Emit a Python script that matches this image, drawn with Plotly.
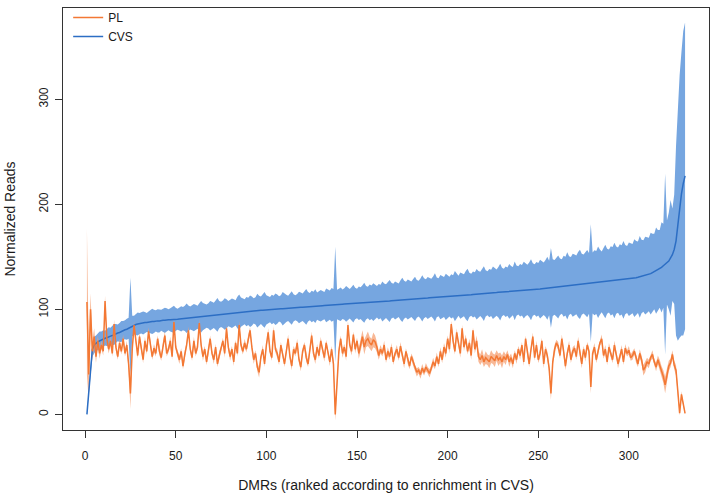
import plotly.graph_objects as go

# ---- data ----
cvs_mean = [
    0, 20, 45, 62, 66, 68, 69, 70, 71, 72,
    72.5, 73, 74, 74.5, 75, 76, 77, 77.5, 78, 79,
    80, 80.5, 81, 82, 83, 84, 85, 85.5, 86, 86.5,
    87, 87, 87.5, 87.5, 88, 88, 88.5, 88.5, 89, 89,
    89, 89.5, 89.5, 89.5, 90, 90, 90, 90, 90.5, 90.5,
    90.6, 90.8, 91, 91.1, 91.3, 91.5, 91.6, 91.8, 92, 92.1,
    92.3, 92.5, 92.7, 92.9, 93.1, 93.3, 93.5, 93.7, 93.9, 94.1,
    94.3, 94.5, 94.7, 94.9, 95.1, 95.3, 95.5, 95.7, 95.9, 96.1,
    96.3, 96.5, 96.7, 96.9, 97.1, 97.3, 97.5, 97.7, 97.8, 98,
    98.2, 98.3, 98.5, 98.6, 98.8, 98.9, 99.1, 99.2, 99.4, 99.5,
    99.6, 99.7, 99.8, 100, 100.1, 100.2, 100.4, 100.5, 100.6, 100.8,
    100.9, 101, 101.1, 101.3, 101.4, 101.5, 101.6, 101.8, 101.9, 102,
    102.2, 102.3, 102.4, 102.6, 102.7, 102.8, 103, 103.1, 103.2, 103.4,
    103.5, 103.6, 103.8, 103.9, 104, 104.2, 104.3, 104.5, 104.6, 104.7,
    104.8, 104.9, 105, 105.1, 105.2, 105.3, 105.3, 105.4, 105.5, 105.6,
    105.8, 105.9, 106, 106.2, 106.3, 106.4, 106.6, 106.7, 106.8, 107,
    107.1, 107.2, 107.4, 107.5, 107.6, 107.8, 107.9, 108, 108.2, 108.3,
    108.4, 108.6, 108.7, 108.8, 109, 109.1, 109.2, 109.4, 109.5, 109.6,
    109.8, 109.9, 110, 110.2, 110.3, 110.4, 110.6, 110.7, 110.8, 111,
    111.1, 111.2, 111.3, 111.4, 111.5, 111.6, 111.7, 111.8, 111.9, 112,
    112.1, 112.3, 112.4, 112.6, 112.7, 112.9, 113, 113.2, 113.3, 113.5,
    113.6, 113.8, 113.9, 114.1, 114.2, 114.4, 114.5, 114.7, 114.8, 115,
    115.1, 115.3, 115.4, 115.6, 115.7, 115.9, 116, 116.2, 116.3, 116.5,
    116.6, 116.8, 116.9, 117.1, 117.2, 117.4, 117.6, 117.8, 118, 118.1,
    118.2, 118.3, 118.4, 118.5, 118.6, 118.7, 118.8, 118.9, 119, 119.1,
    119.3, 119.5, 119.7, 119.9, 120.1, 120.3, 120.5, 120.7, 120.9, 121.1,
    121.3, 121.5, 121.7, 121.9, 122.1, 122.3, 122.5, 122.7, 122.9, 123.1,
    123.3, 123.5, 123.7, 123.9, 124.1, 124.3, 124.5, 124.7, 124.9, 125.1,
    125.3, 125.5, 125.7, 125.9, 126.1, 126.3, 126.5, 126.7, 126.9, 127.1,
    127.3, 127.5, 127.7, 127.8, 127.9, 128, 128.1, 128.2, 128.4, 128.6,
    128.9, 129.3, 129.7, 130.1, 130.5, 130.9, 131.3, 131.7, 132.1, 132.6,
    133.2, 134, 135, 136, 136.8, 137.5, 138.5, 140, 141.5, 143,
    144.5, 146, 149, 152, 157, 165, 180, 198, 210, 220, 227,
]

cvs_hw = [
    1, 3, 5, 7, 8, 7, 8, 9, 8, 8,
    7, 8, 9, 8, 9, 10, 9, 8, 9, 10,
    9, 9, 10, 10, 47, 10, 9, 10, 11, 10,
    10, 11, 10, 9, 10, 11, 12, 11, 10, 11,
    11, 10, 11, 12, 11, 10, 11, 12, 13, 11,
    10, 11, 12, 11, 12, 14, 12, 11, 12, 13,
    12, 11, 13, 15, 13, 12, 11, 12, 14, 13,
    12, 14, 16, 13, 12, 13, 15, 14, 12, 13,
    14, 13, 12, 15, 17, 14, 13, 12, 14, 13,
    15, 14, 12, 13, 16, 14, 13, 15, 17, 14,
    13, 12, 14, 13, 15, 14, 12, 13, 16, 14,
    13, 12, 14, 16, 13, 12, 13, 15, 14, 13,
    15, 17, 14, 13, 15, 14, 16, 13, 14, 15,
    14, 13, 16, 15, 14, 16, 15, 55, 14, 15,
    16, 14, 15, 17, 15, 14, 16, 18, 15, 14,
    16, 15, 17, 19, 16, 15, 17, 16, 18, 16,
    15, 17, 16, 19, 17, 16, 18, 20, 17, 16,
    18, 17, 16, 19, 21, 18, 17, 19, 18, 17,
    19, 21, 18, 17, 19, 22, 19, 18, 20, 19,
    18, 20, 23, 19, 18, 21, 20, 19, 22, 20,
    19, 21, 20, 24, 21, 19, 22, 21, 20, 23,
    25, 21, 20, 22, 21, 24, 22, 21, 23, 26,
    22, 21, 23, 22, 25, 23, 22, 24, 27, 23,
    22, 24, 23, 26, 24, 23, 28, 24, 23, 25,
    24, 27, 25, 24, 26, 29, 25, 24, 26, 25,
    28, 26, 25, 27, 30, 26, 38, 27, 26, 28,
    30, 27, 26, 29, 28, 32, 28, 27, 30, 29,
    28, 31, 33, 29, 28, 30, 32, 29, 56, 29,
    31, 30, 34, 31, 29, 32, 35, 31, 30, 33,
    32, 36, 32, 31, 34, 33, 37, 33, 32, 35,
    34, 33, 37, 35, 34, 39, 35, 34, 37, 36,
    35, 39, 37, 36, 41, 38, 37, 43, 40, 86,
    40, 46, 55, 44, 52, 90, 110, 125, 135, 145, 146,
]

pl_mean = [
    107, 38, 100, 60, 74, 55, 70, 58, 66, 60,
    108, 72, 62, 70, 58, 86, 64, 55, 68, 60,
    72, 58, 66, 48, 20, 62, 85, 68, 56, 74,
    62, 52, 70, 60, 79, 66, 55, 63, 58, 72,
    60, 54, 67, 75, 58, 62, 70, 55, 88, 64,
    58, 52, 60, 46, 57, 66, 80, 62, 54, 70,
    58, 64, 87, 66, 55, 62, 50, 60, 72, 58,
    52, 64, 48, 56, 62, 70, 58, 82, 64, 55,
    62, 50, 68, 58, 85, 66, 60, 68, 62, 72,
    80, 64, 52, 58, 45, 40, 55, 62, 48, 66,
    78, 60, 54, 80, 62, 58, 50, 66, 56, 48,
    60, 72, 55, 46, 62, 58, 68, 52, 45, 60,
    66, 54, 48, 62, 75, 58, 52, 64, 56, 70,
    60, 54, 68, 58, 50, 62, 48, 0, 30, 60,
    72, 58, 64, 55, 85, 66, 60, 76, 62, 70,
    58, 66, 74, 64, 70, 72, 68, 66, 71, 69,
    64, 56, 62, 58, 66, 52, 60, 55, 64, 50,
    58, 62, 54, 65, 56, 48, 60, 52, 46, 55,
    50, 44, 40, 42, 38, 44, 40, 45, 42, 39,
    44, 50, 46, 55, 48, 60, 52, 64, 58, 72,
    62, 86, 70, 60, 78, 66, 58, 82, 64, 72,
    60, 68, 56, 80, 62, 70, 55, 52, 56, 50,
    54, 52, 50, 55, 53, 51, 56, 52, 54, 50,
    55, 52, 57, 50, 54, 48, 58, 52, 62, 56,
    66, 50, 72, 58, 48, 62, 74, 54, 66, 52,
    58, 70, 48, 62, 56, 44, 20, 50, 62, 68,
    65, 56, 72, 60, 46, 58, 66, 52, 60, 63,
    55, 70, 58, 48, 62, 54, 66, 60, 26, 58,
    64, 52, 60, 68, 72, 56, 62, 50, 64, 58,
    52, 66, 58, 48, 55, 62, 50, 63, 58, 61,
    54, 56, 60, 53, 48, 58, 52, 42, 45, 50,
    48, 54, 57, 50, 45, 52, 47, 40, 36, 28,
    38, 46, 49, 57, 47, 42, 22, 1, 19, 8, 1,
]

pl_hw = [
    70, 25, 15, 10, 8, 6, 5, 5, 4, 4,
    5, 4, 4, 4, 3, 4, 4, 3, 4, 3,
    4, 3, 4, 6, 15, 4, 4, 3, 3, 4,
    3, 3, 4, 3, 4, 3, 3, 4, 3, 3,
    4, 3, 3, 4, 3, 3, 4, 3, 4, 3,
    3, 4, 3, 3, 4, 3, 4, 3, 3, 4,
    3, 3, 4, 3, 4, 3, 3, 4, 3, 3,
    4, 3, 3, 4, 3, 3, 4, 3, 3, 4,
    3, 4, 3, 3, 4, 3, 3, 4, 3, 4,
    3, 3, 4, 3, 4, 5, 3, 4, 3, 3,
    4, 3, 3, 4, 3, 4, 3, 3, 4, 3,
    3, 4, 3, 4, 3, 3, 4, 3, 4, 3,
    3, 4, 3, 3, 4, 3, 4, 3, 3, 4,
    3, 4, 3, 3, 4, 3, 4, 6, 8, 4,
    3, 4, 3, 4, 4, 3, 4, 3, 4, 3,
    5, 6, 6, 7, 6, 7, 6, 6, 7, 6,
    5, 4, 4, 3, 4, 3, 4, 3, 4, 3,
    3, 4, 3, 4, 3, 4, 3, 4, 3, 3,
    4, 3, 4, 3, 4, 4, 3, 4, 3, 4,
    3, 4, 3, 4, 3, 4, 3, 4, 4, 3,
    4, 3, 4, 3, 4, 3, 4, 3, 4, 4,
    3, 4, 4, 3, 4, 5, 5, 5, 6, 5,
    6, 5, 6, 6, 5, 6, 5, 6, 5, 6,
    5, 5, 4, 5, 4, 4, 3, 4, 3, 4,
    3, 4, 3, 4, 3, 3, 4, 3, 4, 3,
    4, 3, 4, 3, 4, 4, 6, 3, 4, 3,
    4, 3, 4, 3, 4, 3, 4, 3, 4, 3,
    3, 4, 3, 4, 3, 4, 3, 4, 6, 3,
    4, 3, 4, 3, 4, 3, 4, 3, 4, 3,
    3, 4, 3, 4, 3, 4, 3, 4, 3, 4,
    3, 4, 3, 4, 3, 4, 4, 5, 5, 4,
    4, 3, 4, 3, 4, 4, 5, 6, 6, 8,
    6, 5, 4, 4, 4, 5, 4, 2, 3, 2, 1,
]

x_title = "DMRs (ranked according to enrichment in CVS)"
y_title = "Normalized Reads"
x_ticks = [0, 50, 100, 150, 200, 250, 300]
y_ticks = [0, 100, 200, 300]

# ---- figure ----
ranks = list(range(1, len(cvs_mean) + 1))
cvs_lo = [m - h for m, h in zip(cvs_mean, cvs_hw)]
cvs_hi = [m + h for m, h in zip(cvs_mean, cvs_hw)]
pl_lo = [m - h for m, h in zip(pl_mean, pl_hw)]
pl_hi = [m + h for m, h in zip(pl_mean, pl_hw)]

BLUE_LINE = "rgb(44,110,196)"
BLUE_FILL = "rgba(118,166,224,1)"
ORANGE_LINE = "rgb(243,120,52)"
ORANGE_FILL = "rgba(246,160,115,0.75)"

fig = go.Figure()
fig.add_trace(go.Scatter(x=ranks, y=cvs_lo, mode="lines", line=dict(width=0, color=BLUE_FILL),
                         showlegend=False, hoverinfo="skip"))
fig.add_trace(go.Scatter(x=ranks, y=cvs_hi, mode="lines", line=dict(width=0, color=BLUE_FILL),
                         fill="tonexty", fillcolor=BLUE_FILL, showlegend=False, hoverinfo="skip"))
fig.add_trace(go.Scatter(x=ranks, y=pl_lo, mode="lines", line=dict(width=0, color=ORANGE_FILL),
                         showlegend=False, hoverinfo="skip"))
fig.add_trace(go.Scatter(x=ranks, y=pl_hi, mode="lines", line=dict(width=0, color=ORANGE_FILL),
                         fill="tonexty", fillcolor=ORANGE_FILL, showlegend=False, hoverinfo="skip"))
fig.add_trace(go.Scatter(x=ranks, y=cvs_mean, mode="lines", name="CVS",
                         line=dict(color=BLUE_LINE, width=1.5), legendrank=2))
fig.add_trace(go.Scatter(x=ranks, y=pl_mean, mode="lines", name="PL",
                         line=dict(color=ORANGE_LINE, width=1.5), legendrank=1))

font = dict(family="Liberation Sans, Arial, Helvetica, sans-serif", size=12, color="#1a1a1a")
fig.update_layout(
    width=711, height=497,
    margin=dict(l=63, r=2, t=8, b=67),
    paper_bgcolor="white", plot_bgcolor="white",
    font=font,
    showlegend=True,
    legend=dict(x=0.008, y=1.012, xanchor="left", yanchor="top",
                traceorder="normal",
                bgcolor="rgba(0,0,0,0)", borderwidth=0,
                font=dict(size=12), itemwidth=30, tracegroupgap=0),
)
fig.update_xaxes(
    range=[-12.2, 344.2], tickmode="array", tickvals=x_ticks,
    ticks="outside", ticklen=7, tickcolor="#333", tickwidth=1, ticklabelstandoff=8,
    showline=True, mirror=True, linecolor="#333", linewidth=1,
    showgrid=False, zeroline=False, automargin=False,
    title=dict(text=x_title, standoff=17),
)
fig.update_yaxes(
    range=[-14.9, 386.9], tickmode="array", tickvals=y_ticks,
    ticks="outside", ticklen=7, tickcolor="#333", tickwidth=1, tickangle=-90,
    ticklabelstandoff=2,
    showline=True, mirror=True, linecolor="#333", linewidth=1,
    showgrid=False, zeroline=False, automargin=False,
    title=dict(text=y_title, standoff=18),
)

fig.write_html("out.html", config={"displayModeBar": False},
               post_script="document.body.style.margin='0';")
